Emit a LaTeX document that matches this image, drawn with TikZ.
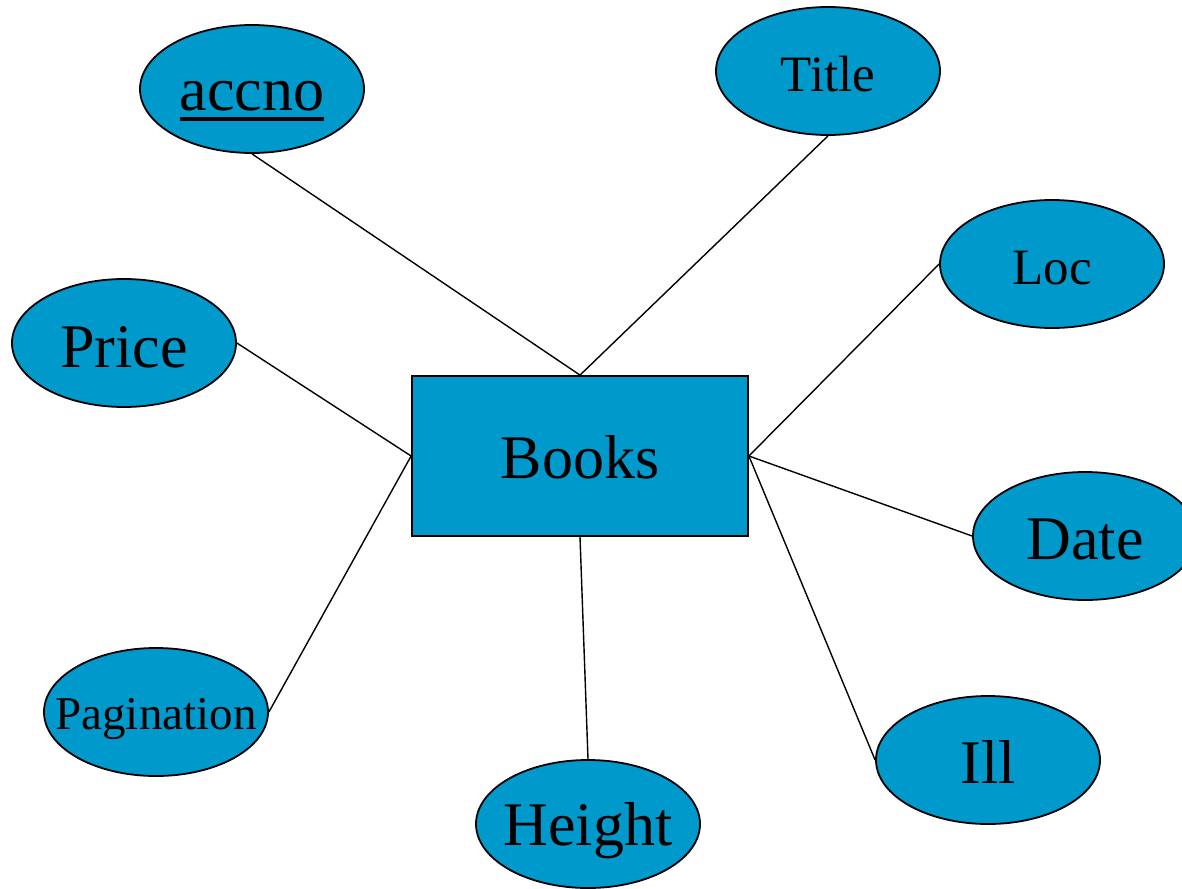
\documentclass[tikz,border=0pt]{standalone}
\usepackage{fontspec}
\setmainfont{Liberation Serif}
\usetikzlibrary{shapes.geometric}
\definecolor{attrblue}{HTML}{0099CC}
\newcommand{\thickul}[1]{\setbox0=\hbox{#1}\dimen0=\wd0 \rlap{\box0}\raisebox{-5pt}{\rule{\dimen0}{1.8pt}}}
\tikzset{
  attr/.style={ellipse, draw=black, line width=0.9pt, fill=attrblue, minimum width=112pt, minimum height=64pt, inner sep=0pt, text depth=0pt},
  entity/.style={rectangle, draw=black, line width=0.9pt, fill=attrblue, minimum width=168pt, minimum height=80pt, inner sep=0pt, text depth=0pt},
  link/.style={draw=black, line width=0.7pt},
  big/.style={font=\fontsize{31}{36}\selectfont, text height=23pt},
  mid/.style={font=\fontsize{25.5}{30}\selectfont, text height=20pt},
  small/.style={font=\fontsize{23.5}{28}\selectfont, text height=17pt}
}
\begin{document}
\begin{tikzpicture}[x=0.5pt,y=-0.5pt]
\useasboundingbox (0,0) rectangle (1182,888);
\clip (0,0) rectangle (1182,888);
\node[entity,big,text height=22pt] (books) at (580,456) {Books};
\node[attr,big,text height=22pt] (accno) at (252,89) {\makebox[0pt]{\thickul{accno}}};
\node[attr,mid] (title) at (828,71) {\makebox[0pt]{Title}};
\node[attr,mid] (loc) at (1052,264) {\makebox[0pt]{Loc}};
\node[attr,big,text height=24pt] (price) at (124,343) {\makebox[0pt]{Price}};
\node[attr,big] (date) at (1085,536) {\makebox[0pt]{Date}};
\node[attr,small] (pag) at (156,712) {\makebox[0pt]{Pagination}};
\node[attr,big,text height=21pt] (height) at (588,824) {\makebox[0pt]{Height}};
\node[attr,big] (ill) at (988,760) {\makebox[0pt]{Ill}};
\draw[link] (accno.south) -- (books.north);
\draw[link] (title.south) -- (books.north);
\draw[link] (loc.west) -- (books.east);
\draw[link] (price.east) -- (books.west);
\draw[link] (date.west) -- (books.east);
\draw[link] (pag.east) -- (books.west);
\draw[link] (height.north) -- (books.south);
\draw[link] (ill.west) -- (books.east);
\end{tikzpicture}
\end{document}
